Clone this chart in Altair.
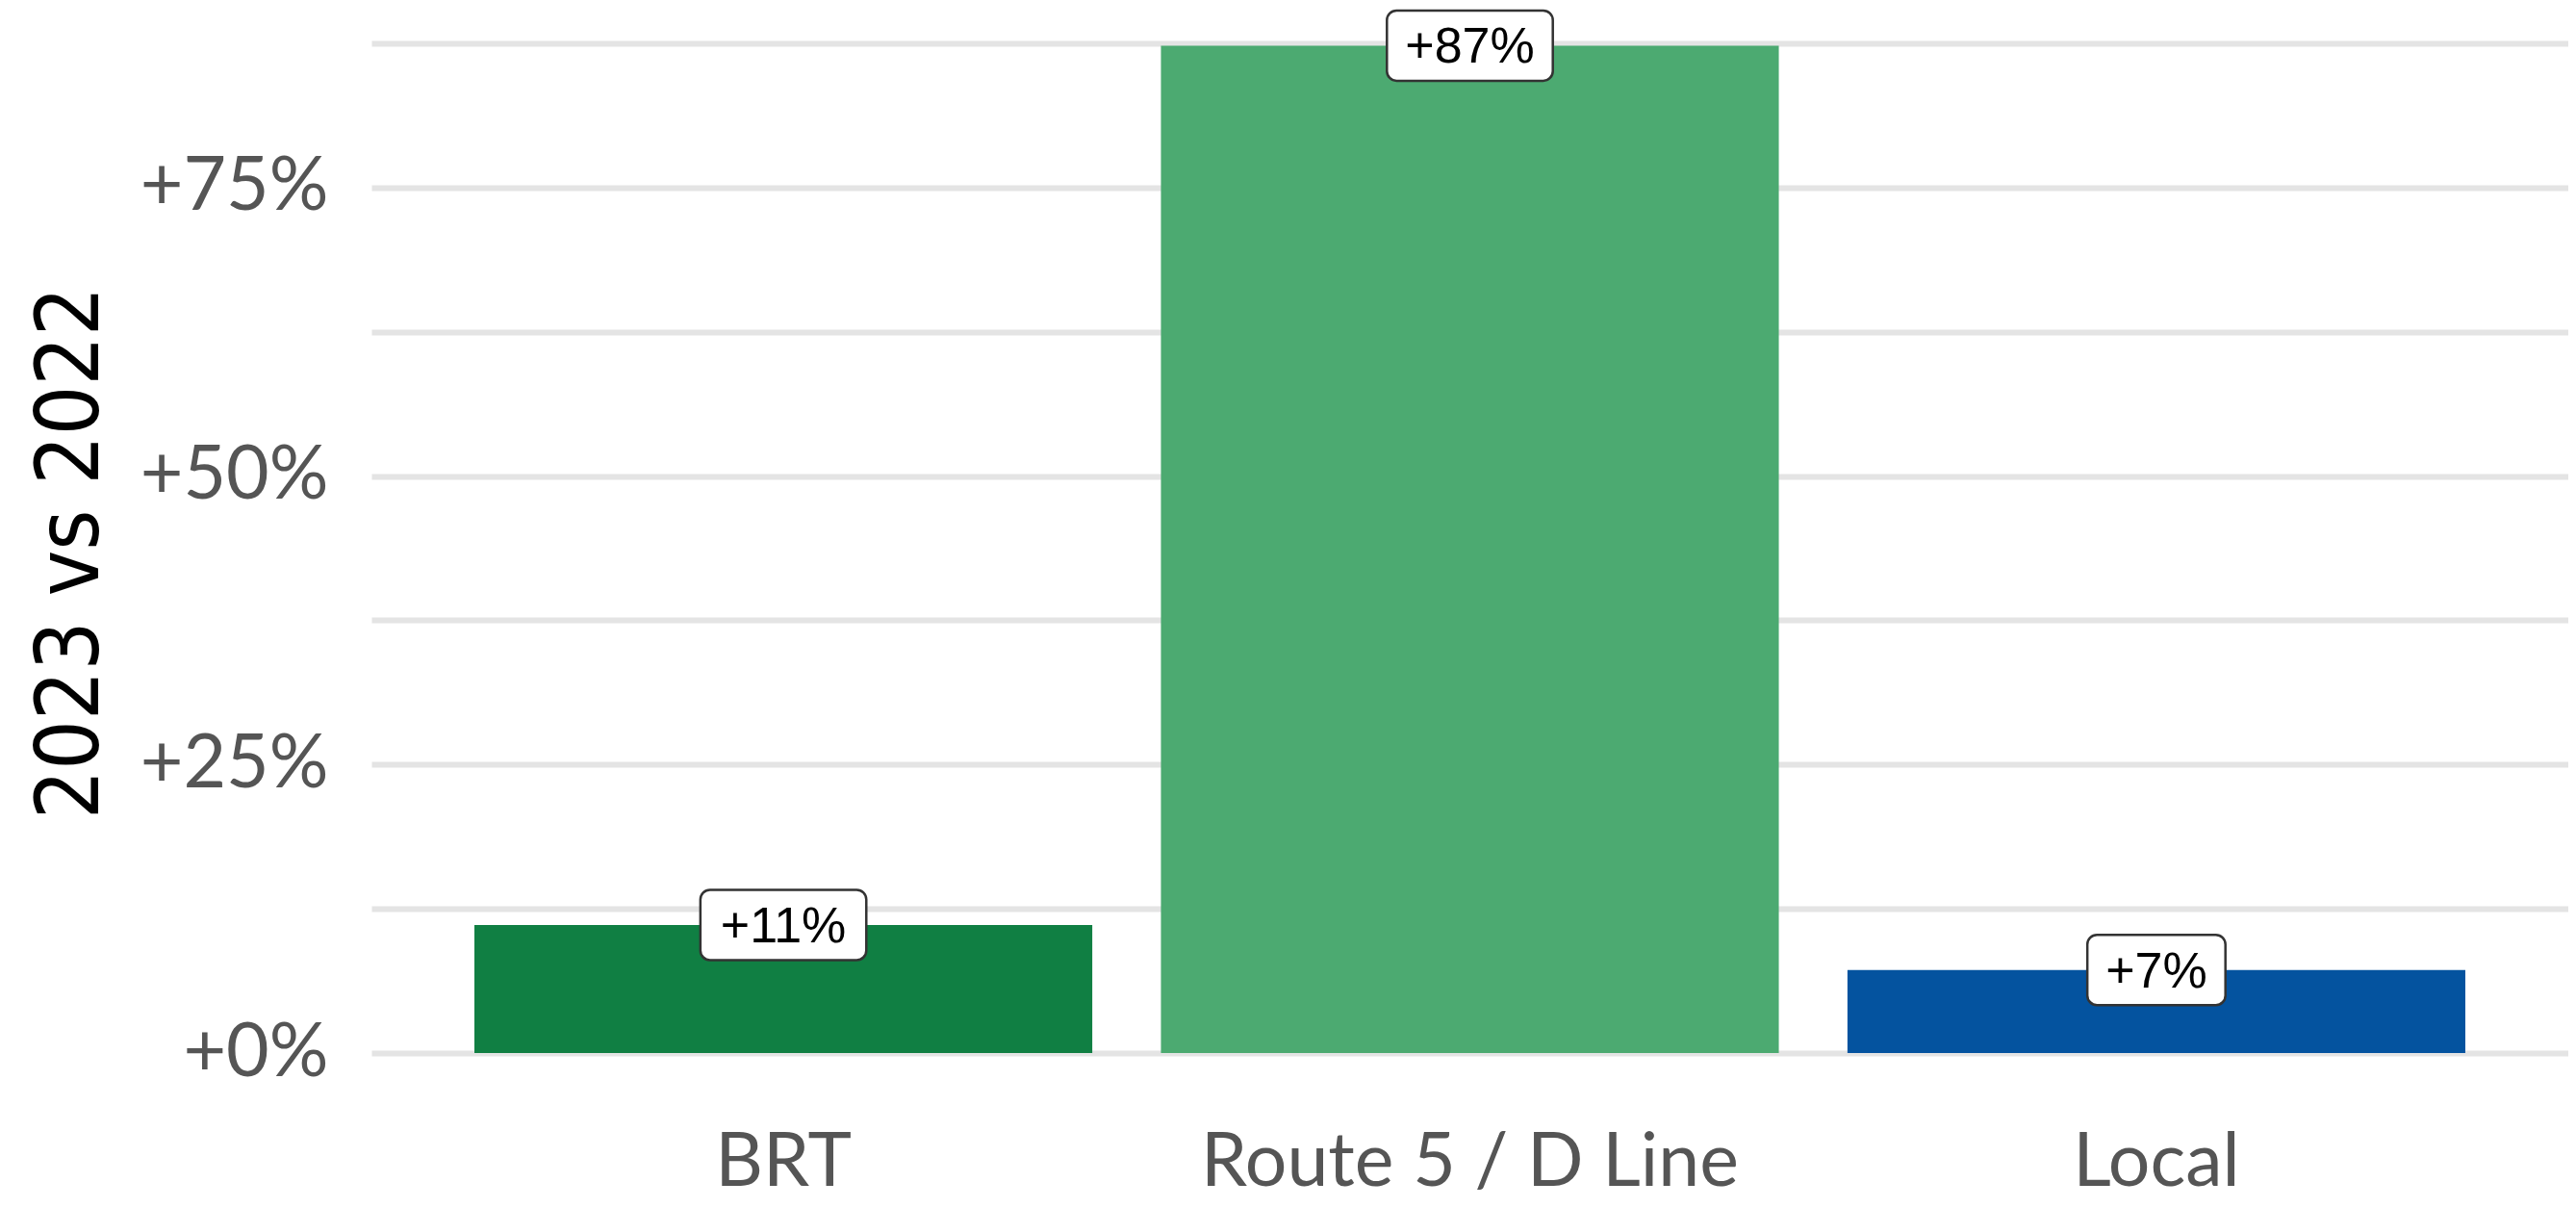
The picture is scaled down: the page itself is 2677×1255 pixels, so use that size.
import altair as alt
import pandas as pd

categories = ["BRT", "Route 5 / D Line", "Local"]
change = [0.111, 0.873, 0.072]
labels = ["+11%", "+87%", "+7%"]
colors = ["#107f43", "#4caa71", "#04539f"]
grid_ticks = [0, 0.125, 0.25, 0.375, 0.5, 0.625, 0.75, 0.875]

CHAR_W = {"+": 0.584, "%": 0.889}


def text_width(s, size=52):
    return sum(CHAR_W.get(c, 0.556) for c in s) * size


def box_path(s):
    hw = round((text_width(s) + 38) / 200, 4)
    hh = 0.365
    r = 0.1
    p = [
        f"M {-hw + r:.4f} {-hh:.4f}",
        f"L {hw - r:.4f} {-hh:.4f}",
        f"A {r} {r} 0 0 1 {hw:.4f} {-hh + r:.4f}",
        f"L {hw:.4f} {hh - r:.4f}",
        f"A {r} {r} 0 0 1 {hw - r:.4f} {hh:.4f}",
        f"L {-hw + r:.4f} {hh:.4f}",
        f"A {r} {r} 0 0 1 {-hw:.4f} {hh - r:.4f}",
        f"L {-hw:.4f} {-hh + r:.4f}",
        f"A {r} {r} 0 0 1 {-hw + r:.4f} {-hh:.4f}",
        "Z",
    ]
    return " ".join(p)


df = pd.DataFrame({
    "category": categories,
    "change": change,
    "label": labels,
    "box": [box_path(l) for l in labels],
})

x_enc = alt.X(
    "category:N",
    sort=categories,
    scale=alt.Scale(paddingInner=0.1, paddingOuter=0.15),
    axis=alt.Axis(
        title=None, labelAngle=0, labelFont="Lato", labelFontSize=77,
        labelColor="#555555", labelPadding=76, labelLimit=0, ticks=False,
        tickSize=0, domain=False, grid=False,
    ),
)

y_enc = alt.Y(
    "change:Q",
    scale=alt.Scale(domain=[0, 0.875], nice=False, zero=True),
    axis=alt.Axis(
        values=grid_ticks,
        labelExpr="round(datum.value*1000) % 250 == 0 ? '+' + format(datum.value, '.0%') : ''",
        labelFont="Lato", labelFontSize=77, labelColor="#555555",
        labelPadding=45, labelLimit=0, ticks=False, tickSize=0, domain=False,
        grid=True, gridColor="#e4e4e4", gridWidth=6,
        title="2023 vs 2022", titleFont="DejaVu Sans Condensed, Liberation Sans",
        titleFontSize=90, titleFontWeight="normal", titleColor="#000000",
        titleX=-312, titleY=529, titleAngle=270, titleAlign="center",
        titleBaseline="middle", titleLimit=0,
    ),
)

bars = alt.Chart(df).mark_bar().encode(
    x=x_enc,
    y=y_enc,
    color=alt.Color("category:N", scale=alt.Scale(domain=categories, range=colors), legend=None),
)

boxes = alt.Chart(df).mark_point(
    filled=True, fill="white", stroke="#333333", strokeWidth=2.5,
    opacity=1, fillOpacity=1, strokeOpacity=1, size=40000,
).encode(
    x=alt.X("category:N", sort=categories),
    y=alt.Y("change:Q"),
    shape=alt.Shape("box:N", scale=None),
)

texts = alt.Chart(df).mark_text(
    font="Liberation Sans", fontSize=52, color="#000000",
    align="center", baseline="middle", dy=2,
).encode(
    x=alt.X("category:N", sort=categories),
    y=alt.Y("change:Q"),
    text="label:N",
)

chart = alt.layer(bars, boxes, texts).properties(
    width=2283, height=1049,
    padding={"left": 378, "top": 37, "right": 0, "bottom": 153},
    autosize=alt.AutoSizeParams(type="none"),
).configure_view(stroke=None)

chart.save("out.html", embed_options={"renderer": "svg", "actions": False})
